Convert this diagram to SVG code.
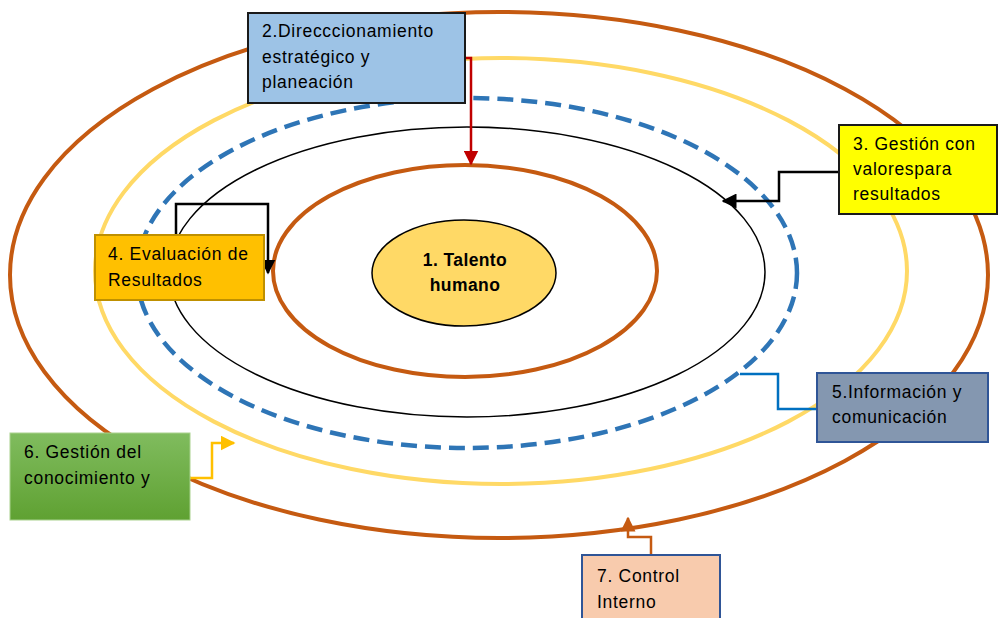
<svg xmlns="http://www.w3.org/2000/svg" width="998" height="618" viewBox="0 0 998 618">
<defs>
<style>
.t{font-family:"Liberation Sans",Arial,sans-serif;font-size:17.5px;letter-spacing:0.7px;fill:#000}
.b{font-weight:bold;letter-spacing:0.4px}
.box{stroke-width:2}
</style>
<linearGradient id="g6" x1="0" y1="0" x2="0" y2="1">
<stop offset="0" stop-color="#80BC5E"/><stop offset="1" stop-color="#5FA132"/>
</linearGradient>
<marker id="aRed" viewBox="0 0 10 10" refX="9" refY="5" markerWidth="6" markerHeight="6" orient="auto"><path d="M0,0 L10,5 L0,10 z" fill="#C00000"/></marker>
<marker id="aBlk" viewBox="0 0 10 10" refX="9" refY="5" markerWidth="6" markerHeight="6" orient="auto"><path d="M0,0 L10,5 L0,10 z" fill="#000"/></marker>
<marker id="aYel" viewBox="0 0 10 10" refX="9" refY="5" markerWidth="6" markerHeight="6" orient="auto"><path d="M0,0 L10,5 L0,10 z" fill="#FFC000"/></marker>
<marker id="aOr" viewBox="0 0 10 10" refX="9" refY="5" markerWidth="6" markerHeight="6" orient="auto"><path d="M0,0 L10,5 L0,10 z" fill="#C55A11"/></marker>
</defs>
<rect width="998" height="618" fill="#fff"/>
<g id="rings" fill="none">
<ellipse cx="499" cy="275" rx="489" ry="263" stroke="#C55A11" stroke-width="4"/>
<ellipse cx="501" cy="271" rx="406" ry="213" stroke="#FFD966" stroke-width="4"/>
<ellipse cx="467" cy="273" rx="330" ry="175" stroke="#2E75B6" stroke-width="4.5" stroke-dasharray="16 8"/>
<ellipse cx="467" cy="272" rx="298" ry="145" stroke="#000" stroke-width="1.5"/>
<ellipse cx="465" cy="271" rx="192" ry="106" stroke="#C55A11" stroke-width="4"/>
</g>
<g id="n1">
<ellipse cx="464" cy="273" rx="92" ry="53" fill="#FFD966" stroke="#000" stroke-width="1.5"/>
<text class="t b" x="465" y="266" text-anchor="middle">1. Talento</text>
<text class="t b" x="465" y="291" text-anchor="middle">humano</text>
</g>
<g id="connectors" fill="none" stroke-width="2.5">
<path d="M466,58 H471 V164" stroke="#C00000" marker-end="url(#aRed)"/>
<path d="M838,172 H779 V201 H723" stroke="#000" marker-end="url(#aBlk)"/>
<path d="M176,235 V204 H268 V273" stroke="#000" marker-end="url(#aBlk)"/>
<path d="M817,409 H778 V374 H740" stroke="#0070C0"/>
<path d="M190,478 H212 V443 H234" stroke="#FFC000" marker-end="url(#aYel)"/>
<path d="M651,555 V537 H628 V518" stroke="#C55A11" marker-end="url(#aOr)"/>
</g>
<g id="n2">
<rect class="box" x="248" y="13" width="217" height="90" fill="#9DC3E6" stroke="#1a1a1a"/>
<text class="t" x="262" y="37">2.Direcccionamiento</text>
<text class="t" x="262" y="63">estratégico y</text>
<text class="t" x="262" y="88">planeación</text>
</g>
<g id="n3">
<rect class="box" x="839" y="125" width="158" height="89" fill="#FFFF00" stroke="#1a1a1a"/>
<text class="t" x="853" y="150">3. Gestión con</text>
<text class="t" x="853" y="175">valorespara</text>
<text class="t" x="853" y="200">resultados</text>
</g>
<g id="n4">
<rect class="box" x="95" y="235" width="169" height="65" fill="#FFC000" stroke="#BF9000"/>
<text class="t" x="108" y="260">4. Evaluación de</text>
<text class="t" x="108" y="286">Resultados</text>
</g>
<g id="n5">
<rect class="box" x="817" y="373" width="171" height="69" fill="#8497B0" stroke="#2F5597"/>
<text class="t" x="832" y="398">5.Información y</text>
<text class="t" x="832" y="423">comunicación</text>
</g>
<g id="n6">
<rect x="10" y="433" width="180" height="87" fill="url(#g6)" stroke="#A9D18E" stroke-width="1"/>
<text class="t" x="24" y="458">6. Gestión del</text>
<text class="t" x="24" y="484">conocimiento y</text>
</g>
<g id="n7">
<rect class="box" x="582" y="555" width="138" height="70" fill="#F8CBAD" stroke="#2F5597"/>
<text class="t" x="597" y="582">7. Control</text>
<text class="t" x="597" y="608">Interno</text>
</g>
</svg>
